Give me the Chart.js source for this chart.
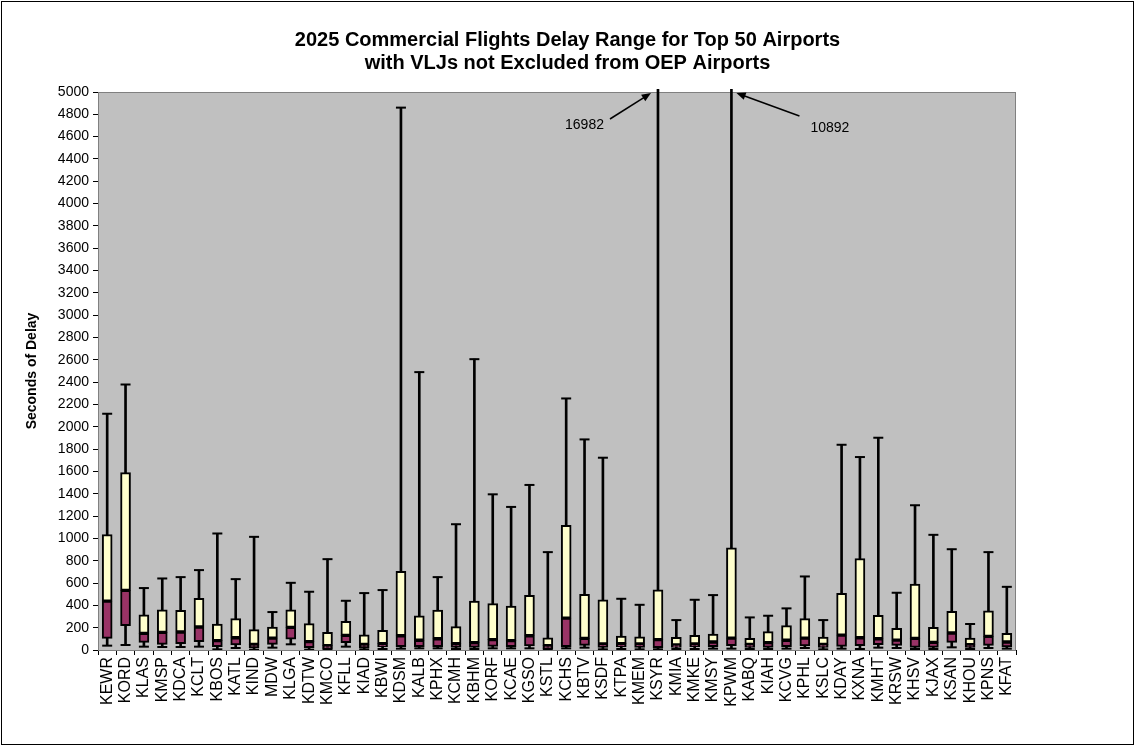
<!DOCTYPE html>
<html>
<head>
<meta charset="utf-8">
<script src="https://cdn.jsdelivr.net/npm/chart.js@4.4.0/dist/chart.umd.min.js"></script>
<style>
  html, body { margin: 0; padding: 0; background: #fff; }
  #wrap { width: 1135px; height: 755px; }
</style>
</head>
<body>
<div id="wrap"><canvas id="delayChart" width="1135" height="755"></canvas></div>
<script>
const airports = ["KEWR", "KORD", "KLAS", "KMSP", "KDCA", "KCLT", "KBOS", "KATL", "KIND", "MDW",
  "KLGA", "KDTW", "KMCO", "KFLL", "KIAD", "KBWI", "KDSM", "KALB", "KPHX", "KCMH",
  "KBHM", "KORF", "KCAE", "KGSO", "KSTL", "KCHS", "KBTV", "KSDF", "KTPA", "KMEM",
  "KSYR", "KMIA", "KMKE", "KMSY", "KPWM", "KABQ", "KIAH", "KCVG", "KPHL", "KSLC",
  "KDAY", "KXNA", "KMHT", "KRSW", "KHSV", "KJAX", "KSAN", "KHOU", "KPNS", "KFAT"];

// seconds of delay per airport
const minDelay = [39, 45, 30, 27, 27, 30, 6, 18, 3, 21,
  51, 3, 0, 30, 6, 9, 12, 15, 15, 9,
  9, 15, 15, 15, 3, 15, 21, 6, 9, 6,
  6, 9, 9, 12, 12, 9, 9, 12, 18, 6,
  12, 9, 21, 18, 9, 9, 24, 9, 18, 12];
const q1Delay = [104, 218, 69, 51, 57, 75, 30, 45, 21, 51,
  96, 21, 12, 66, 21, 27, 30, 30, 30, 24,
  24, 33, 30, 36, 12, 30, 42, 24, 27, 24,
  21, 24, 27, 30, 39, 24, 24, 30, 36, 24,
  33, 39, 48, 42, 24, 24, 69, 24, 42, 27];
const medianDelay = [438, 534, 149, 158, 161, 206, 84, 110, 51, 107,
  203, 75, 39, 131, 51, 57, 128, 87, 101, 57,
  66, 93, 84, 128, 39, 286, 104, 54, 57, 54,
  93, 45, 54, 72, 107, 51, 66, 87, 107, 51,
  134, 110, 101, 89, 104, 69, 152, 48, 122, 72];
const q3Delay = [1035, 1589, 316, 361, 355, 462, 233, 281, 182, 206,
  361, 236, 158, 256, 137, 176, 704, 307, 358, 209,
  438, 415, 394, 489, 110, 1118, 498, 450, 125, 119,
  540, 113, 131, 143, 915, 104, 164, 218, 281, 116,
  507, 820, 310, 194, 590, 203, 346, 107, 352, 149];
const maxDelay = [2117, 2379, 555, 641, 653, 716, 1044, 635, 1014, 340,
  602, 522, 814, 441, 510, 537, 4860, 2490, 653, 1127,
  2606, 1395, 1282, 1479, 877, 2254, 1887, 1723, 459, 405,
  16982, 268, 450, 492, 10892, 292, 307, 373, 659, 268,
  1839, 1729, 1902, 513, 1297, 1032, 903, 233, 877, 566];

const yMax = 5000;
const yStep = 200;

const titleLines = [
  "2025 Commercial Flights Delay Range for Top 50 Airports",
  "with VLJs not Excluded from OEP Airports"
];

// off-scale values called out at the top of the plot
const callouts = [
  { airport: "KSYR", side: -1 },
  { airport: "KPWM", side: 1 }
];

const fontFamily = "'Liberation Sans', Arial, sans-serif";
Chart.defaults.font.family = fontFamily;
Chart.defaults.color = "#000";

const plotBackground = {
  id: "plotBackground",
  beforeDraw(chart) {
    const { ctx, chartArea: a } = chart;
    ctx.save();
    ctx.fillStyle = "#c0c0c0";
    ctx.fillRect(a.left, a.top, a.right - a.left, a.bottom - a.top);
    ctx.restore();
  },
  beforeDatasetsDraw(chart) {
    const { ctx, chartArea: a } = chart;
    ctx.save();
    ctx.strokeStyle = "#808080";
    ctx.lineWidth = 1;
    ctx.strokeRect(a.left + 0.5, a.top + 0.5, a.right - a.left - 1, a.bottom - a.top);
    ctx.restore();
  },
  afterDraw(chart) {
    const { ctx } = chart;
    ctx.save();
    // chart frame
    ctx.strokeStyle = "#000";
    ctx.lineWidth = 1;
    ctx.strokeRect(1.5, 1.5, chart.width - 3, 743);
    // title, centred on the whole frame
    ctx.fillStyle = "#000";
    ctx.font = "bold 20px " + fontFamily;
    ctx.textAlign = "center";
    ctx.textBaseline = "middle";
    ctx.fillText(titleLines[0], chart.width / 2, 40);
    ctx.fillText(titleLines[1], chart.width / 2, 63);
    ctx.restore();
  }
};

function drawArrow(ctx, x1, y1, x2, y2) {
  const ang = Math.atan2(y2 - y1, x2 - x1);
  const len = 10;
  ctx.beginPath();
  ctx.moveTo(x1, y1);
  ctx.lineTo(x2 - Math.cos(ang) * len * 0.8, y2 - Math.sin(ang) * len * 0.8);
  ctx.stroke();
  ctx.beginPath();
  ctx.moveTo(x2, y2);
  ctx.lineTo(x2 - len * Math.cos(ang - 0.4), y2 - len * Math.sin(ang - 0.4));
  ctx.lineTo(x2 - len * Math.cos(ang + 0.4), y2 - len * Math.sin(ang + 0.4));
  ctx.closePath();
  ctx.fill();
}

const calloutPlugin = {
  id: "callouts",
  afterDatasetsDraw(chart) {
    const { ctx, scales } = chart;
    const top = scales.y.getPixelForValue(yMax);
    ctx.save();
    ctx.fillStyle = "#000";
    ctx.strokeStyle = "#000";
    ctx.lineWidth = 1.5;
    ctx.font = "14px " + fontFamily;
    ctx.textBaseline = "middle";
    callouts.forEach((c) => {
      const idx = airports.indexOf(c.airport);
      const x = scales.x.getPixelForValue(idx);
      const label = String(maxDelay[idx]);
      if (c.side < 0) {
        ctx.textAlign = "right";
        ctx.fillText(label, x - 54, top + 33);
        drawArrow(ctx, x - 48, top + 27, x - 7, top + 1);
      } else {
        ctx.textAlign = "left";
        ctx.fillText(label, x + 79, top + 36);
        drawArrow(ctx, x + 68, top + 24, x + 5, top + 1);
      }
    });
    ctx.restore();
  }
};

new Chart(document.getElementById("delayChart"), {
  data: {
    labels: airports,
    datasets: [
      {
        type: "line",
        label: "Max",
        data: maxDelay,
        showLine: false,
        pointStyle: "line",
        pointRadius: 5,
        pointHoverRadius: 5,
        pointBorderWidth: 2,
        borderColor: "#000",
        order: 1
      },
      {
        type: "line",
        label: "Min",
        data: minDelay,
        showLine: false,
        pointStyle: "line",
        pointRadius: 5,
        pointHoverRadius: 5,
        pointBorderWidth: 2,
        borderColor: "#000",
        order: 1
      },
      {
        type: "bar",
        label: "Upper",
        data: airports.map((a, i) => [medianDelay[i], q3Delay[i]]),
        backgroundColor: "#ffffcc",
        borderColor: "#000",
        borderWidth: 2,
        borderSkipped: false,
        barThickness: 10,
        grouped: false,
        order: 2
      },
      {
        type: "bar",
        label: "Lower",
        data: airports.map((a, i) => [q1Delay[i], medianDelay[i]]),
        backgroundColor: "#993366",
        borderColor: "#000",
        borderWidth: 2,
        borderSkipped: false,
        barThickness: 10,
        grouped: false,
        order: 2
      },
      {
        type: "bar",
        label: "Range",
        data: airports.map((a, i) => [minDelay[i], maxDelay[i]]),
        backgroundColor: "#000",
        borderWidth: 0,
        barThickness: 2,
        grouped: false,
        clip: { left: 0, right: 0, top: 3, bottom: 0 },
        order: 3
      }
    ]
  },
  options: {
    responsive: false,
    animation: false,
    events: [],
    layout: {
      padding: { left: 2, right: 119, top: 92, bottom: 0 }
    },
    plugins: {
      legend: { display: false },
      tooltip: { enabled: false },
      title: { display: false }
    },
    scales: {
      x: {
        type: "category",
        offset: true,
        grid: {
          offset: true,
          drawOnChartArea: false,
          tickLength: 5,
          color: "#000"
        },
        border: { display: true, color: "#000" },
        ticks: {
          autoSkip: false,
          minRotation: 90,
          maxRotation: 90,
          padding: 2,
          color: "#000",
          font: { size: 16 }
        },
        afterFit(scale) {
          scale.height = 105;
        }
      },
      y: {
        min: 0,
        max: yMax,
        ticks: {
          stepSize: yStep,
          padding: 4,
          color: "#000",
          font: { size: 14 },
          callback: (value) => String(value)
        },
        grid: {
          drawOnChartArea: false,
          tickLength: 5,
          color: "#000"
        },
        border: { display: true, color: "#000" },
        title: {
          display: true,
          text: "Seconds of Delay",
          color: "#000",
          font: { size: 14, weight: "bold" },
          padding: { top: 22, bottom: 0 }
        },
        afterFit(scale) {
          scale.width = 96;
        }
      }
    }
  },
  plugins: [plotBackground, calloutPlugin]
});
</script>
</body>
</html>
